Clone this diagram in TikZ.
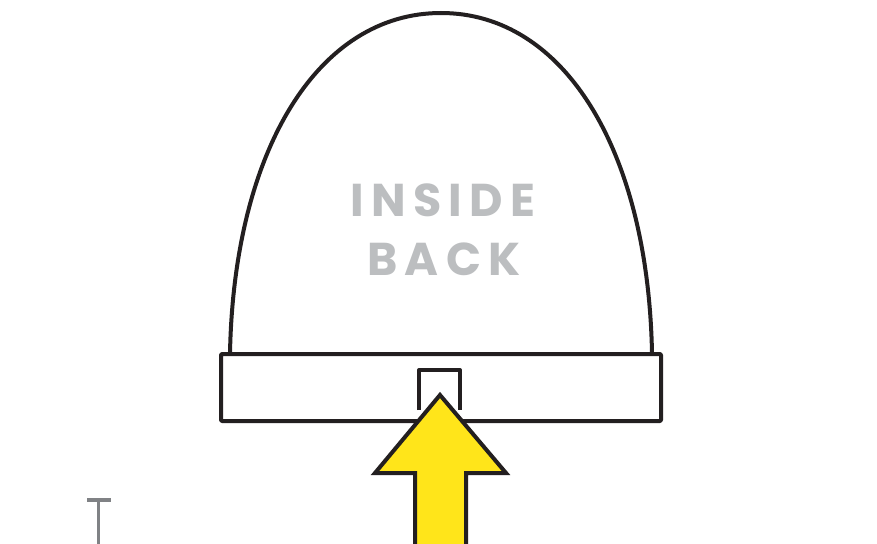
\documentclass[tikz,border=0pt]{standalone}
\usepackage{fontspec}
\newfontfamily\popfont[LetterSpace=16]{Poppins}
\definecolor{ink}{HTML}{231F20}
\definecolor{labelgray}{HTML}{BCBEC0}
\definecolor{arrowyellow}{HTML}{FFE51A}
\definecolor{markgray}{HTML}{808285}
\tikzset{
  outline/.style={draw=ink, line width=4pt, line join=round},
  label/.style={text=labelgray, font=\popfont\bfseries\fontsize{46}{50}\selectfont, inner sep=0pt, anchor=center},
}
\begin{document}
\begin{tikzpicture}[x=1pt,y=-1pt]
\useasboundingbox (0,0) rectangle (877,543);
\fill[white] (0,0) rectangle (877,543);
% dome
\coordinate (baseL) at (230,353);
\coordinate (baseR) at (652,353);
\coordinate (top) at (441,13);
\draw[outline] (baseL) .. controls (234,150) and (318,13) .. (top)
  .. controls (564,13) and (648,150) .. (baseR);
% band
\draw[outline, rounded corners=1pt] (221,354) rectangle (661,421);
% small tab
\draw[outline] (419,410) -- (419,370) -- (460,370) -- (460,410);
% arrow
\draw[outline, fill=arrowyellow, line join=miter]
  (440,395) -- (506,473) -- (466,473) -- (466,560) -- (415,560) -- (415,473) -- (375,473) -- cycle;
% labels
\node[label] (inside) at (443,200) {INSIDE};
\node[label] (back) at (444,259) {BACK};
% T mark
\draw[markgray, line width=4pt] (87,500) -- (111,500);
\draw[markgray, line width=3pt] (98.5,500) -- (98.5,545);
\end{tikzpicture}
\end{document}
